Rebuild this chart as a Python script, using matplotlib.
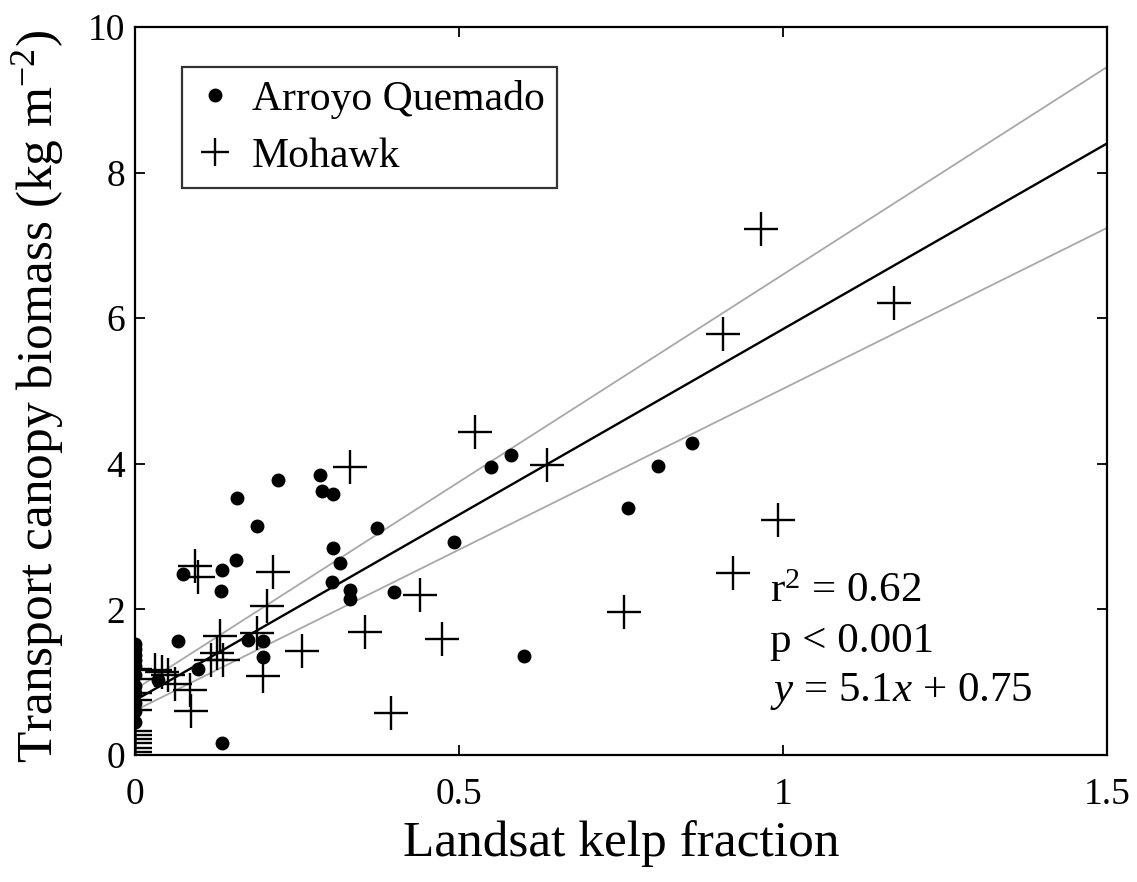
import matplotlib
matplotlib.use("Agg")
import matplotlib.pyplot as plt
import numpy as np

plt.rcParams['font.family'] = ['Liberation Serif', 'DejaVu Serif']
plt.rcParams['mathtext.fontset'] = 'custom'
plt.rcParams['mathtext.rm'] = 'Liberation Serif'
plt.rcParams['mathtext.it'] = 'Liberation Serif:italic'

# Arroyo Quemado (dots)
aq_x = [0, 0, 0, 0, 0, 0, 0, 0, 0, 0, 0,
        0.036, 0.067, 0.074, 0.098, 0.133, 0.134, 0.134, 0.156, 0.158, 0.175,
        0.189, 0.198, 0.198, 0.221, 0.285, 0.288, 0.306, 0.304, 0.306, 0.316,
        0.332, 0.332, 0.374, 0.399, 0.493, 0.549, 0.580, 0.600, 0.761, 0.807, 0.859]
aq_y = [1.52, 1.45, 1.38, 1.30, 1.22, 1.10, 0.95, 0.85, 0.72, 0.60, 0.45,
        1.03, 1.57, 2.48, 1.18, 2.25, 2.54, 0.17, 2.68, 3.53, 1.58,
        3.15, 1.57, 1.34, 3.78, 3.85, 3.63, 3.59, 2.37, 2.85, 2.64,
        2.26, 2.14, 3.12, 2.24, 2.93, 3.95, 4.12, 1.36, 3.39, 3.97, 4.29]

# Mohawk (pluses)
mo_x = [0, 0, 0, 0, 0, 0, 0, 0, 0, 0, 0,
        0.031, 0.041, 0.051, 0.062, 0.085, 0.087, 0.093, 0.097, 0.118, 0.126,
        0.131, 0.136, 0.188, 0.198, 0.203, 0.213, 0.257, 0.332, 0.355, 0.395,
        0.440, 0.474, 0.525, 0.636, 0.754, 0.908, 0.923, 0.966, 0.992, 1.172]
mo_y = [0.04, 0.10, 0.16, 0.22, 0.28, 0.33, 0.62, 0.75, 0.85, 1.05, 1.18,
        1.17, 1.14, 1.10, 0.98, 0.89, 0.60, 2.60, 2.45, 1.30, 1.40,
        1.63, 1.30, 1.67, 1.08, 2.05, 2.52, 1.43, 3.95, 1.69, 0.57,
        2.20, 1.59, 4.44, 3.98, 1.96, 5.78, 2.50, 7.23, 3.23, 6.21]

# regression line and confidence lines: (slope, intercept)
fit = [5.1, 0.75]
upper = [5.70, 0.90]
lower = [4.42, 0.61]

fig = plt.figure(figsize=(11.37, 8.82), dpi=100)
ax = fig.add_axes([0.1187, 0.144, 0.9736 - 0.1187, 0.9694 - 0.144])

xx = np.array([0, 1.5])
ax.plot(xx, upper[0] * xx + upper[1], color='#a8a8a8', lw=1.3, zorder=1)
ax.plot(xx, lower[0] * xx + lower[1], color='#a8a8a8', lw=1.3, zorder=1)
ax.plot(xx, fit[0] * xx + fit[1], color='black', lw=1.7, zorder=2)

ax.plot(aq_x, aq_y, linestyle='none', marker='o', ms=9, color='black',
        label='Arroyo Quemado', zorder=3)
ax.plot(mo_x, mo_y, linestyle='none', marker='+', ms=25, mew=1.7,
        color='black', label='Mohawk', zorder=3)

ax.set_xlim(0, 1.5)
ax.set_ylim(0, 10)
ax.set_xticks([0, 0.5, 1, 1.5])
ax.set_xticklabels(['0', '0.5', '1', '1.5'])
ax.set_yticks([0, 2, 4, 6, 8, 10])
ax.tick_params(direction='in', length=7, width=1.3, top=True, right=True,
               labelsize=27)
ax.tick_params(axis='x', pad=16)
ax.tick_params(axis='y', pad=7)
for s in ax.spines.values():
    s.set_linewidth(1.6)

ax.set_xlabel('Landsat kelp fraction', fontsize=37, va='baseline')
ax.xaxis.set_label_coords(0.5, -0.1387)
ax.set_ylabel('Transport canopy biomass (kg m$^{-2}$)', fontsize=37,
              va='center')
ax.yaxis.set_label_coords(-0.0998, 0.493)

leg = ax.legend(loc='upper left', bbox_to_anchor=(0.0484, 0.945),
                borderaxespad=0, fontsize=30, frameon=True, fancybox=False,
                edgecolor='black', handlelength=1.0, handletextpad=0.38,
                borderpad=0.3, labelspacing=0.45)
leg.get_frame().set_linewidth(1.6)
leg.legend_handles[0].set_markersize(9)
leg.legend_handles[1].set_markersize(20)

ax.text(0.98, 2.1, 'r$^2$ = 0.62', fontsize=31, ha='left', va='baseline')
ax.text(0.98, 1.42, 'p < 0.001', fontsize=31, ha='left', va='baseline')
ax.text(0.98, 0.74, '$y$ = 5.1$x$ + 0.75', fontsize=31, ha='left', va='baseline')

fig.savefig('out.png', dpi=100)
